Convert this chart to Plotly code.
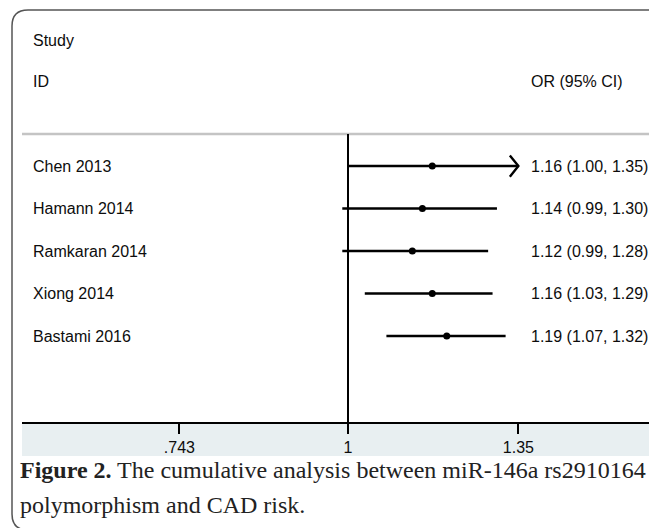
import math
import plotly.graph_objects as go

# ---- data ----
studies = ["Chen 2013", "Hamann 2014", "Ramkaran 2014", "Xiong 2014", "Bastami 2016"]
or_vals = [1.16, 1.14, 1.12, 1.16, 1.19]
ci_low = [1.00, 0.99, 0.99, 1.03, 1.07]
ci_high = [1.35, 1.30, 1.28, 1.29, 1.32]
tick_vals = [0.743, 1, 1.35]
tick_text = [".743", "1", "1.35"]
header_left = ["Study", "ID"]
header_right = "OR (95% CI)"
caption_bold = "Figure 2."
caption_line1 = " The cumulative analysis between miR-146a rs2910164"
caption_line2 = "polymorphism and CAD risk."

W, H = 649, 528

def px(x):
    return x / W

def py(y):
    return 1 - y / H

# plot area in pixels
PL, PR, PT, PB = 22, 649, 134, 422
x_per_px = 0.000765  # log10 units per pixel
x_range = [(PL - 348) * x_per_px, (PR - 348) * x_per_px]
row_gap = 42.5
first_row = 166
y_range = [(PB - first_row) / row_gap, -(first_row - PT) / row_gap]

ys = list(range(len(studies)))

fig = go.Figure()

# CI lines
lx, ly = [], []
for i, (lo, hi) in enumerate(zip(ci_low, ci_high)):
    lx += [lo, hi, None]
    ly += [ys[i], ys[i], None]
fig.add_trace(go.Scatter(x=lx, y=ly, mode="lines", line=dict(color="black", width=2.6),
                         hoverinfo="skip", showlegend=False))

# arrowheads where CI reaches the axis limit
ax_, ay_ = [], []
for i, hi in enumerate(ci_high):
    if hi >= max(tick_vals):
        back = hi * math.exp(-0.015)
        ax_ += [back, hi, back, None]
        ay_ += [ys[i] - 0.25, ys[i], ys[i] + 0.25, None]
fig.add_trace(go.Scatter(x=ax_, y=ay_, mode="lines", line=dict(color="black", width=2.4),
                         hoverinfo="skip", showlegend=False))

# point estimates
fig.add_trace(go.Scatter(x=or_vals, y=ys, mode="markers",
                         marker=dict(color="black", size=7),
                         hoverinfo="skip", showlegend=False))

font_sans = "Liberation Sans, Arial, sans-serif"
font_serif = "Liberation Serif, Times New Roman, serif"
txt_col = "#0d0d0d"

annotations = []
for i, s in enumerate(studies):
    annotations.append(dict(x=px(31), xref="paper", y=ys[i], yref="y", text=s,
                            showarrow=False, xanchor="left", yanchor="middle",
                            font=dict(family=font_sans, size=16, color=txt_col)))
    annotations.append(dict(x=px(529), xref="paper", y=ys[i], yref="y",
                            text=f"{or_vals[i]:.2f} ({ci_low[i]:.2f}, {ci_high[i]:.2f})",
                            showarrow=False, xanchor="left", yanchor="middle",
                            font=dict(family=font_sans, size=16, color=txt_col)))
annotations.append(dict(x=px(31), xref="paper", y=py(40), yref="paper", text=header_left[0],
                        showarrow=False, xanchor="left", yanchor="middle",
                        font=dict(family=font_sans, size=16, color=txt_col)))
annotations.append(dict(x=px(31), xref="paper", y=py(82), yref="paper", text=header_left[1],
                        showarrow=False, xanchor="left", yanchor="middle",
                        font=dict(family=font_sans, size=16, color=txt_col)))
annotations.append(dict(x=px(529), xref="paper", y=py(82), yref="paper", text=header_right,
                        showarrow=False, xanchor="left", yanchor="middle",
                        font=dict(family=font_sans, size=16, color=txt_col)))
annotations.append(dict(x=px(18), xref="paper", y=py(470), yref="paper",
                        text=f"<b>{caption_bold}</b>{caption_line1}",
                        showarrow=False, xanchor="left", yanchor="middle",
                        font=dict(family=font_serif, size=24, color="#222")))
annotations.append(dict(x=px(18), xref="paper", y=py(505), yref="paper",
                        text=caption_line2,
                        showarrow=False, xanchor="left", yanchor="middle",
                        font=dict(family=font_serif, size=24, color="#222")))

shapes = [
    # axis band
    dict(type="rect", xref="paper", yref="paper", x0=px(PL), x1=1, y0=py(456), y1=py(PB),
         fillcolor="#e8eff1", line=dict(width=0), layer="below"),
    # rounded frame
    dict(type="path", xref="paper", yref="paper",
         path=(f"M {px(660)},{py(10)} L {px(28)},{py(10)} Q {px(12)},{py(10)} {px(12)},{py(26)} "
               f"L {px(12)},{py(514)} Q {px(12)},{py(530)} {px(28)},{py(530)} L {px(660)},{py(530)}"),
         line=dict(color="#555", width=1.5)),
    # grey separator
    dict(type="line", xref="paper", yref="paper", x0=px(PL), x1=1, y0=py(PT), y1=py(PT),
         line=dict(color="#c4c4c4", width=2.5)),
    # null line
    dict(type="line", xref="x", yref="y domain", x0=1, x1=1, y0=0, y1=1,
         line=dict(color="black", width=2)),
]

fig.update_layout(
    width=W, height=H, margin=dict(l=0, r=0, t=0, b=0),
    paper_bgcolor="white", plot_bgcolor="rgba(0,0,0,0)",
    showlegend=False,
    annotations=annotations, shapes=shapes,
    xaxis=dict(type="log", range=x_range, domain=[px(PL), 1],
               showgrid=False, zeroline=False, showline=True, linecolor="black", linewidth=2,
               ticks="outside", ticklen=10, tickwidth=2, tickcolor="black",
               tickvals=tick_vals, ticktext=tick_text,
               tickfont=dict(family=font_sans, size=16, color=txt_col)),
    yaxis=dict(range=y_range, domain=[py(PB), py(PT)], visible=False),
)

fig.write_html("out.html")
